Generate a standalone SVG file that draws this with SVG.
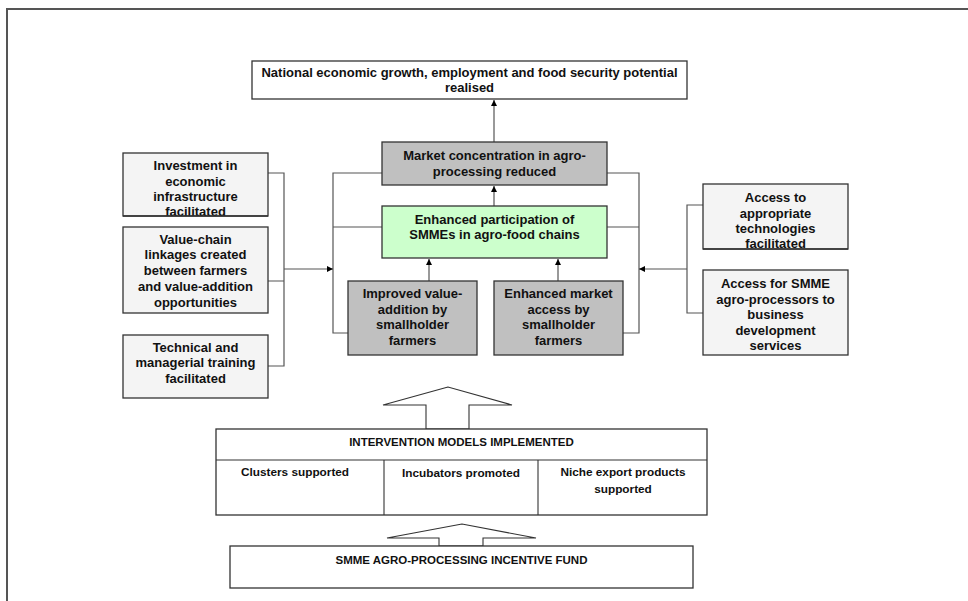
<svg xmlns="http://www.w3.org/2000/svg" width="968" height="601" viewBox="0 0 968 601">
<style>
  text { font-family: "Liberation Sans", Arial, sans-serif; font-weight: bold; font-size: 13px; fill: #111; text-anchor: middle; }
  .box { stroke: #333; stroke-width: 1.3; }
  .white { fill: #ffffff; }
  .light { fill: #f4f4f4; }
  .grey { fill: #c0c0c0; }
  .green { fill: #ccffcc; }
  .conn { stroke: #555; stroke-width: 1.2; fill: none; }
  .big { fill: #fff; stroke: #333; stroke-width: 1.1; }
  .cap { font-size: 11.5px; }
  .cell { font-size: 11.8px; }
</style>
<defs>
  <marker id="ah" viewBox="0 0 10 10" refX="10" refY="5" markerWidth="6" markerHeight="6" markerUnits="userSpaceOnUse" orient="auto">
    <path d="M0,0 L10,5 L0,10 z" fill="#000"/>
  </marker>
</defs>
<rect x="0" y="0" width="968" height="601" fill="#fff"/>
<path d="M7,601 V9 H968" fill="none" stroke="#555" stroke-width="2"/>

<g id="connectors">
  <line class="conn" x1="494" y1="142" x2="494" y2="100" marker-end="url(#ah)"/>
  <line class="conn" x1="494" y1="206" x2="494" y2="186" marker-end="url(#ah)"/>
  <line class="conn" x1="429" y1="281" x2="429" y2="259" marker-end="url(#ah)"/>
  <line class="conn" x1="558" y1="281" x2="558" y2="259" marker-end="url(#ah)"/>
  <path class="conn" d="M382,173 H333 V333 H348 M333,227 H382"/>
  <path class="conn" d="M607,173 H639 V333 H623 M639,227 H607"/>
  <path class="conn" d="M268,173 H284 V366 H268 M284,281 H268"/>
  <line class="conn" x1="284" y1="269" x2="333" y2="269" marker-end="url(#ah)"/>
  <path class="conn" d="M703,205 H687 V313 H703"/>
  <line class="conn" x1="687" y1="269" x2="639" y2="269" marker-end="url(#ah)"/>
  <polygon class="big" points="448,387 383,405 426,405 426,429 469,429 469,405 512,405"/>
  <polygon class="big" points="462,524 387,538 439,538 439,546 483,546 483,538 536,538"/>
</g>

<g id="goal">
  <rect class="box white" x="252" y="61" width="435" height="38"/>
  <text x="469.5" y="76.5">National economic growth, employment and food security potential</text>
  <text x="469.5" y="91.5">realised</text>
</g>

<g id="market">
  <rect class="box grey" x="382" y="142" width="225" height="43"/>
  <text x="494.5" y="159.5">Market concentration in agro-</text>
  <text x="494.5" y="175.5">processing reduced</text>
</g>

<g id="participation">
  <rect class="box green" x="382" y="206" width="225" height="52"/>
  <text x="494.5" y="223.5">Enhanced participation of</text>
  <text x="494.5" y="238.5">SMMEs in agro-food chains</text>
</g>

<g id="valueaddition">
  <rect class="box grey" x="348" y="281" width="129" height="74"/>
  <text x="412.5" y="297.5">Improved value-</text>
  <text x="412.5" y="313.5">addition by</text>
  <text x="412.5" y="328.5">smallholder</text>
  <text x="412.5" y="344.5">farmers</text>
</g>

<g id="marketaccess">
  <rect class="box grey" x="494" y="281" width="129" height="74"/>
  <text x="558.5" y="297.5">Enhanced market</text>
  <text x="558.5" y="313.5">access by</text>
  <text x="558.5" y="328.5">smallholder</text>
  <text x="558.5" y="344.5">farmers</text>
</g>

<g id="investment">
  <rect class="box light" x="123" y="153" width="145" height="63"/>
  <text x="195.5" y="169.5">Investment in</text>
  <text x="195.5" y="185.5">economic</text>
  <text x="195.5" y="200.5">infrastructure</text>
  <text x="195.5" y="215.5">facilitated</text>
  <line x1="123" y1="216" x2="268" y2="216" stroke="#333" stroke-width="1.3"/>
</g>

<g id="valuechain">
  <rect class="box light" x="123" y="227" width="145" height="86"/>
  <text x="195.5" y="243.5">Value-chain</text>
  <text x="195.5" y="258.5">linkages created</text>
  <text x="195.5" y="274.5">between farmers</text>
  <text x="195.5" y="290.5">and value-addition</text>
  <text x="195.5" y="306.5">opportunities</text>
</g>

<g id="training">
  <rect class="box light" x="123" y="335" width="145" height="63"/>
  <text x="195.5" y="351.5">Technical and</text>
  <text x="195.5" y="366.5">managerial training</text>
  <text x="195.5" y="382.5">facilitated</text>
</g>

<g id="technologies">
  <rect class="box light" x="703" y="184" width="145" height="65"/>
  <text x="775.5" y="201.5">Access to</text>
  <text x="775.5" y="217.5">appropriate</text>
  <text x="775.5" y="232.5">technologies</text>
  <text x="775.5" y="247.5">facilitated</text>
  <line x1="703" y1="249" x2="848" y2="249" stroke="#333" stroke-width="1.3"/>
</g>

<g id="bds">
  <rect class="box light" x="703" y="270" width="145" height="85"/>
  <text x="775.5" y="287.5">Access for SMME</text>
  <text x="775.5" y="303.5">agro-processors to</text>
  <text x="775.5" y="318.5">business</text>
  <text x="775.5" y="334.5">development</text>
  <text x="775.5" y="349.5">services</text>
</g>

<g id="intervention">
  <rect class="box white" x="216" y="429" width="491" height="86" stroke-width="1.1"/>
  <line x1="216" y1="460" x2="707" y2="460" stroke="#333" stroke-width="1.1"/>
  <line x1="384" y1="460" x2="384" y2="515" stroke="#333" stroke-width="1.1"/>
  <line x1="538" y1="460" x2="538" y2="515" stroke="#333" stroke-width="1.1"/>
  <text class="cap" x="461.5" y="446">INTERVENTION MODELS IMPLEMENTED</text>
  <text class="cell" x="295" y="476">Clusters supported</text>
  <text class="cell" x="461" y="477">Incubators promoted</text>
  <text class="cell" x="623" y="476">Niche export products</text>
  <text class="cell" x="623" y="493">supported</text>
</g>

<g id="fund">
  <rect class="box white" x="230" y="546" width="463" height="42" stroke-width="1.1"/>
  <text class="cap" x="461.5" y="564">SMME AGRO-PROCESSING INCENTIVE FUND</text>
</g>
</svg>
